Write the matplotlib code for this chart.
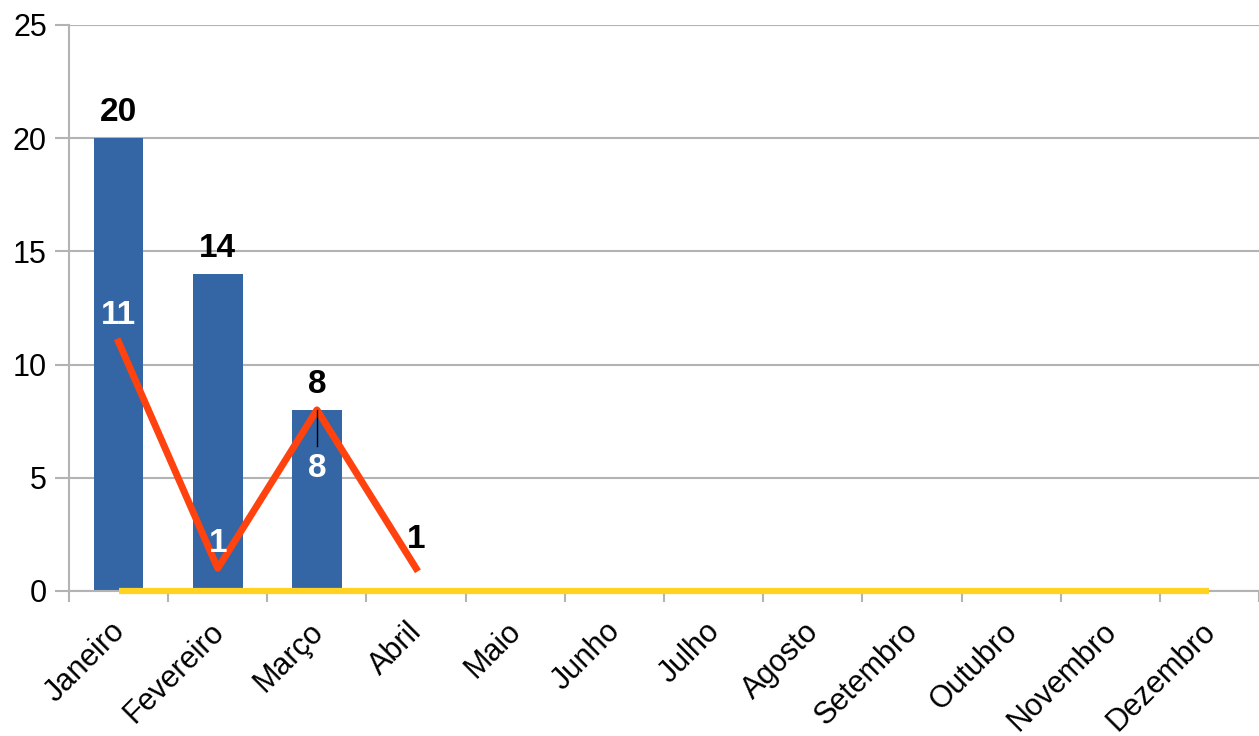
import matplotlib.pyplot as plt
import matplotlib.transforms as mtransforms
import numpy as np

plt.rcParams['font.family'] = ['Liberation Sans', 'DejaVu Sans']

meses = ['Janeiro', 'Fevereiro', 'Março', 'Abril', 'Maio', 'Junho', 'Julho',
         'Agosto', 'Setembro', 'Outubro', 'Novembro', 'Dezembro']
barras = [20, 14, 8, 0, 0, 0, 0, 0, 0, 0, 0, 0]
linha_vermelha = [11, 1, 8, 1]
linha_amarela = [0] * 12

x = np.arange(len(meses))

fig = plt.figure(figsize=(12.59, 7.36), dpi=100)
ax = fig.add_axes([69 / 1259, 145 / 736, 1190 / 1259, 566 / 736])

ax.bar(x, barras, width=0.5, color='#3465a4', zorder=2)
ax.plot(x, linha_amarela, color='#ffd320', lw=4.5, solid_capstyle='butt', zorder=3, clip_on=False)
ax.plot(x[:len(linha_vermelha)], linha_vermelha, color='#ff420e', lw=5, zorder=4)

# rotulos das barras
for i, v in enumerate(barras[:3]):
    ax.annotate(str(v), (x[i], v), xytext=(0, 7), textcoords='offset points',
                ha='center', va='bottom', fontsize=24, fontweight='bold', color='black', zorder=5)

# rotulos da linha vermelha
ax.annotate('11', (x[0], linha_vermelha[0]), xytext=(0, 19), textcoords='offset points',
            ha='center', va='center', fontsize=24, fontweight='bold', color='white', zorder=5)
ax.annotate('1', (x[1], linha_vermelha[1]), xytext=(0, 18), textcoords='offset points',
            ha='center', va='center', fontsize=24, fontweight='bold', color='white', zorder=5)
ax.annotate('8', (x[2], linha_vermelha[2]), xytext=(0, -42), textcoords='offset points',
            ha='center', va='center', fontsize=24, fontweight='bold', color='white', zorder=5)
ax.plot([x[2], x[2]], [linha_vermelha[2], linha_vermelha[2] - 1.6], color='black', lw=1, zorder=5)
ax.annotate('1', (x[3], linha_vermelha[3]), xytext=(0, 21), textcoords='offset points',
            ha='center', va='center', fontsize=24, fontweight='bold', color='black', zorder=5)

ax.set_xlim(-0.5, len(meses) - 0.5)
ax.set_ylim(0, 25)
ax.set_yticks([0, 5, 10, 15, 20, 25])
ax.yaxis.grid(True, color='#b3b3b3', lw=1.5, zorder=0)

ax.set_xticks(x)
ax.set_xticklabels(meses, rotation=45, ha='right', va='top', rotation_mode='anchor')
ax.set_xticks(np.arange(-0.5, len(meses)), minor=True)
ax.tick_params(axis='x', which='major', length=0, pad=14, labelsize=22)
ax.tick_params(axis='x', which='minor', length=8, width=1.5, color='#b3b3b3')
ax.tick_params(axis='y', length=10, width=1.5, color='#b3b3b3', labelsize=22, pad=6)

deslocamento = mtransforms.ScaledTranslation(-0.09, -0.06, fig.dpi_scale_trans)
for lbl in ax.get_xticklabels():
    lbl.set_transform(lbl.get_transform() + deslocamento)

for s in ['top', 'right']:
    ax.spines[s].set_visible(False)
ax.spines['left'].set_color('#b3b3b3')
ax.spines['left'].set_linewidth(1.5)
ax.spines['bottom'].set_color('#b3b3b3')
ax.spines['bottom'].set_linewidth(1.5)

fig.savefig('out.png', dpi=100)
